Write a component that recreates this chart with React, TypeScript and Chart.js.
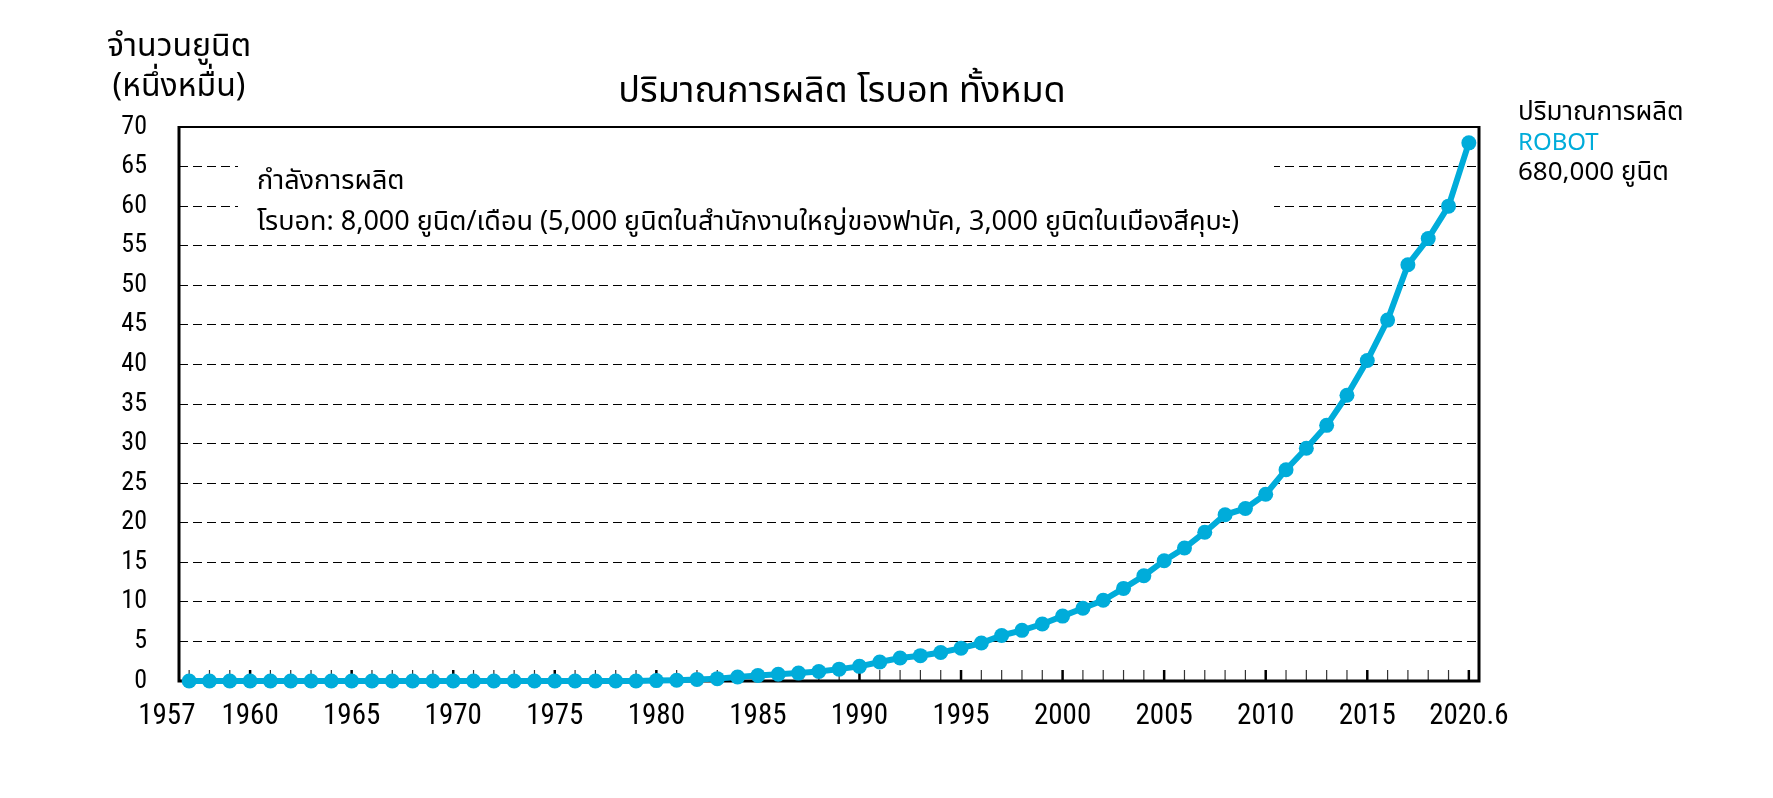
import { useEffect, useRef } from 'react';
import { Chart, registerables } from 'chart.js';

Chart.register(...registerables);

// ---- data ----
const years = [
  1957, 1958, 1959, 1960, 1961, 1962, 1963, 1964, 1965, 1966,
  1967, 1968, 1969, 1970, 1971, 1972, 1973, 1974, 1975, 1976,
  1977, 1978, 1979, 1980, 1981, 1982, 1983, 1984, 1985, 1986,
  1987, 1988, 1989, 1990, 1991, 1992, 1993, 1994, 1995, 1996,
  1997, 1998, 1999, 2000, 2001, 2002, 2003, 2004, 2005, 2006,
  2007, 2008, 2009, 2010, 2011, 2012, 2013, 2014, 2015, 2016,
  2017, 2018, 2019, 2020,
];
// cumulative robots produced (units of 10,000)
const robotValues = [
  0, 0, 0, 0, 0, 0, 0, 0, 0, 0,
  0, 0, 0, 0, 0, 0, 0, 0, 0, 0,
  0, 0, 0, 0.05, 0.1, 0.2, 0.3, 0.5, 0.7, 0.85,
  1.0, 1.2, 1.5, 1.85, 2.4, 2.9, 3.2, 3.6, 4.15, 4.8,
  5.75, 6.4, 7.2, 8.2, 9.2, 10.2, 11.7, 13.3, 15.2, 16.8,
  18.8, 21.0, 21.8, 23.6, 26.7, 29.4, 32.3, 36.1, 40.5, 45.6,
  52.6, 55.9, 60.0, 68.0,
];
const xTickYears = [1957, 1960, 1965, 1970, 1975, 1980, 1985, 1990, 1995, 2000, 2005, 2010, 2015, 2020];
const xTickLabels = ['1957', '1960', '1965', '1970', '1975', '1980', '1985', '1990', '1995', '2000', '2005', '2010', '2015', '2020.6'];
const yTicks = [0, 5, 10, 15, 20, 25, 30, 35, 40, 45, 50, 55, 60, 65, 70];

const chartTitle = 'ปริมาณการผลิต โรบอท ทั้งหมด';
const yTitleLines = ['จำนวนยูนิต', '(หนึ่งหมื่น)'];
const noteLines = [
  'กำลังการผลิต',
  'โรบอท: 8,000 ยูนิต/เดือน (5,000 ยูนิตในสำนักงานใหญ่ของฟานัค, 3,000 ยูนิตในเมืองสีคุบะ)',
];
const sideLines = ['ปริมาณการผลิต', 'ROBOT', '680,000 ยูนิต'];

const CYAN = '#00acda';
const NUM_FONT = "'Liberation Sans Narrow', 'Roboto Condensed', 'Liberation Sans', sans-serif";
const THAI_FONT = "'Noto Sans Thai', 'Noto Sans', 'DejaVu Sans', sans-serif";

const decorPlugin = {
  id: 'decor',
  beforeDatasetsDraw(chart: any) {
    const { ctx, chartArea: a, scales } = chart;
    const xs = scales.x;
    const ys = scales.y;
    ctx.save();
    // white note box over the grid
    ctx.fillStyle = '#fff';
    ctx.fillRect(a.left + 59, a.top + 2, 1036, ys.getPixelForValue(57) - a.top - 2);
    // note text
    ctx.fillStyle = '#000';
    ctx.textAlign = 'left';
    ctx.textBaseline = 'middle';
    ctx.font = `27px ${THAI_FONT}`;
    ctx.fillText(noteLines[0], a.left + 78, a.top + 57);
    ctx.fillText(noteLines[1], a.left + 78, a.top + 98);
    // inner year ticks
    years.forEach((yr) => {
      const px = xs.getPixelForValue(yr);
      ctx.beginPath();
      ctx.lineWidth = yr % 5 === 0 ? 2.5 : 1.2;
      ctx.strokeStyle = yr % 5 === 0 ? '#000' : '#333';
      ctx.moveTo(px, a.bottom);
      ctx.lineTo(px, a.bottom - 11);
      ctx.stroke();
    });
    // frame
    ctx.strokeStyle = '#000';
    ctx.lineWidth = 2;
    ctx.beginPath();
    ctx.moveTo(a.left, a.top);
    ctx.lineTo(a.right, a.top);
    ctx.stroke();
    ctx.lineWidth = 3;
    ctx.beginPath();
    ctx.moveTo(a.left, a.top - 1);
    ctx.lineTo(a.left, a.bottom);
    ctx.lineTo(a.right, a.bottom);
    ctx.lineTo(a.right, a.top - 1);
    ctx.stroke();
    ctx.restore();
  },
  afterDraw(chart: any) {
    const { ctx, chartArea: a } = chart;
    ctx.save();
    ctx.fillStyle = '#000';
    ctx.textBaseline = 'middle';
    // title centred over plot area
    ctx.textAlign = 'center';
    ctx.font = `36px ${THAI_FONT}`;
    ctx.fillText(chartTitle, (a.left + a.right) / 2 + 13, a.top - 32);
    // y-axis title
    ctx.font = `32px ${THAI_FONT}`;
    ctx.fillText(yTitleLines[0], a.left, a.top - 77);
    ctx.fillText(yTitleLines[1], a.left, a.top - 37);
    // side annotation
    ctx.textAlign = 'left';
    const sx = a.right + 39;
    ctx.font = `26px ${THAI_FONT}`;
    ctx.fillText(sideLines[0], sx, a.top - 12);
    ctx.font = `24px ${THAI_FONT}`;
    ctx.fillStyle = CYAN;
    ctx.fillText(sideLines[1], sx, a.top + 18);
    ctx.fillStyle = '#000';
    ctx.font = `26px ${THAI_FONT}`;
    ctx.fillText(sideLines[2], sx, a.top + 48);
    ctx.restore();
  },
};

export default function App() {
  const ref = useRef<HTMLCanvasElement>(null);
  useEffect(() => {
    const chart = new Chart(ref.current as HTMLCanvasElement, {
      type: 'line',
      data: {
        datasets: [
          {
            data: years.map((yr, i) => ({ x: yr, y: robotValues[i] })),
            borderColor: CYAN,
            backgroundColor: CYAN,
            borderWidth: 6,
            pointRadius: 7.5,
            pointBorderWidth: 0,
            pointBackgroundColor: CYAN,
            tension: 0,
            clip: false as any,
          },
        ],
      },
      options: {
        responsive: false,
        animation: false,
        layout: { padding: { left: 0, right: 286, top: 119, bottom: 0 } },
        plugins: {
          legend: { display: false },
          tooltip: { enabled: false },
          title: { display: false },
        },
        scales: {
          x: {
            type: 'linear',
            min: 1956.5,
            max: 2020.5,
            afterBuildTicks: (s: any) => {
              s.ticks = xTickYears.map((yr) => ({ value: yr === 1957 ? s.min - 0.6 : yr }));
            },
            afterFit: (s: any) => {
              s.height = 107;
            },
            ticks: {
              autoSkip: false,
              maxRotation: 0,
              color: '#000',
              padding: 18,
              font: { family: NUM_FONT, size: 29 },
              callback: (_v: any, i: number) => xTickLabels[i],
            },
            grid: { display: false, drawTicks: false },
            border: { display: false },
          },
          y: {
            min: 0,
            max: 70,
            afterBuildTicks: (s: any) => {
              s.ticks = yTicks.map((v) => ({ value: v }));
            },
            afterFit: (s: any) => {
              s.width = 171;
            },
            ticks: {
              color: '#000',
              padding: 32,
              font: { family: NUM_FONT, size: 26 },
            },
            grid: {
              drawTicks: false,
              lineWidth: 1,
              color: (c: any) =>
                c.tick && (c.tick.value === 0 || c.tick.value === 70) ? 'rgba(0,0,0,0)' : '#000',
            },
            border: { display: false, dash: [9, 5] },
          },
        },
      },
      plugins: [decorPlugin],
    });
    return () => chart.destroy();
  }, []);
  return (
    <div style={{ width: 1757, height: 780 }}>
      <canvas ref={ref} width={1757} height={780} style={{ display: 'block' }} />
    </div>
  );
}
